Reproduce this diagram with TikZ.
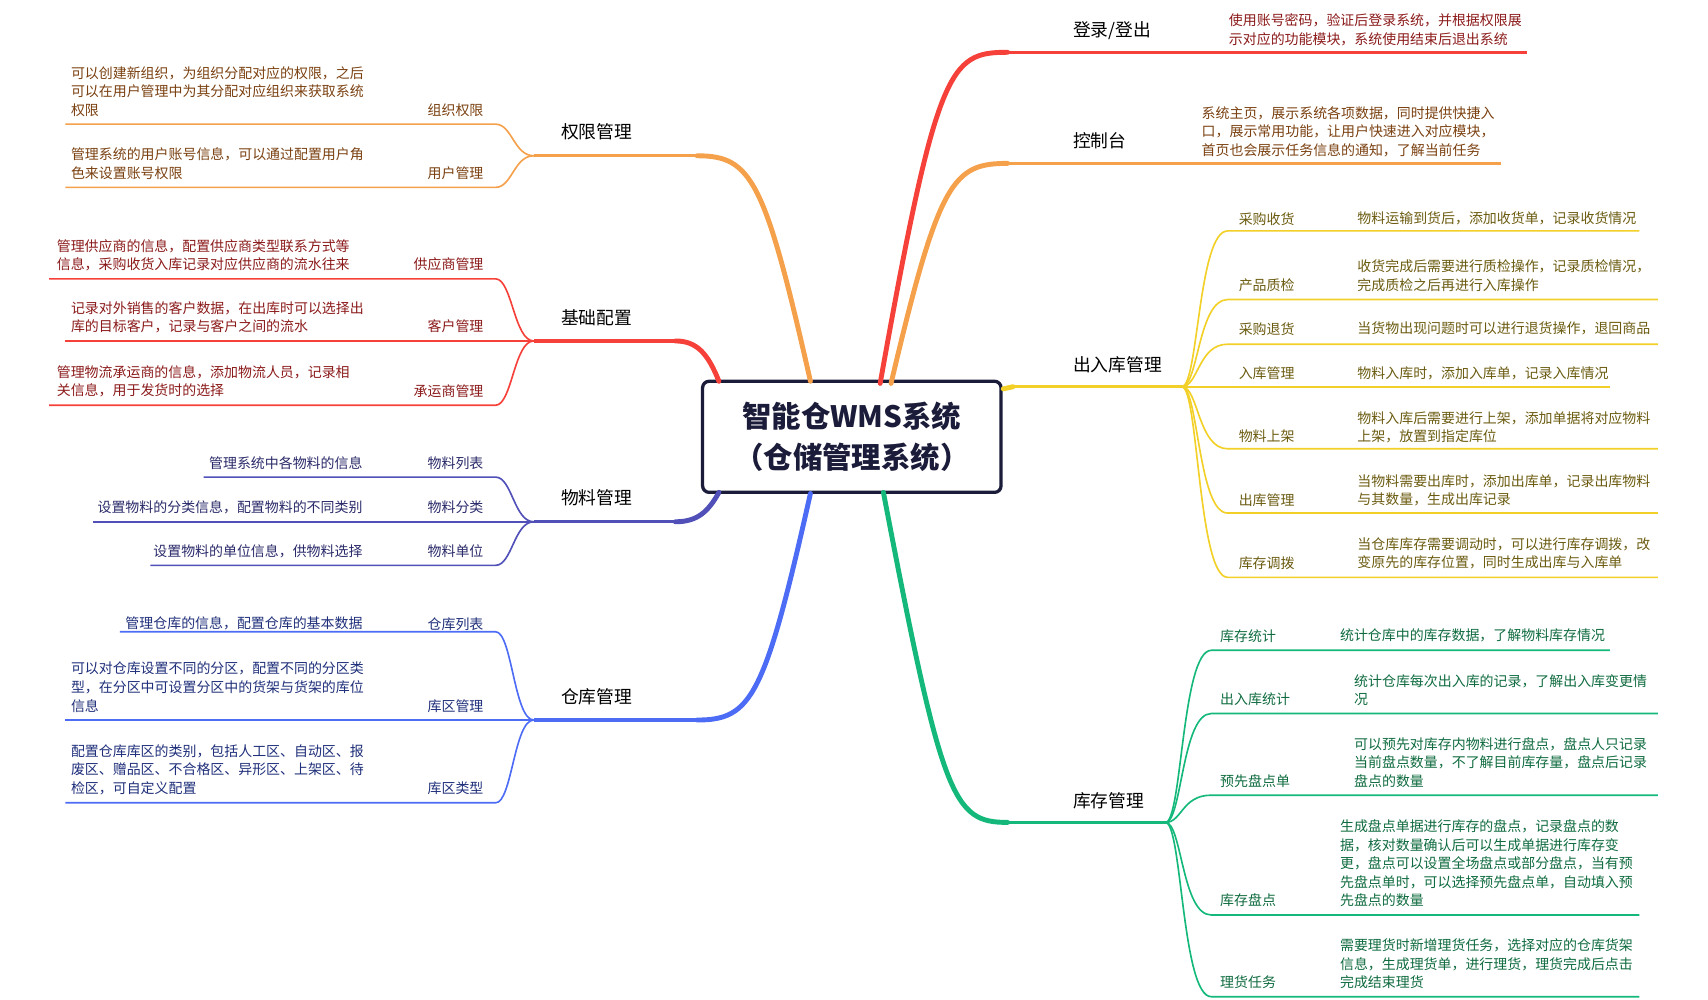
\documentclass[tikz,border=0pt]{standalone}
\usepackage{fontspec}
\setmainfont{Noto Sans CJK SC}
\definecolor{cR}{HTML}{F5413A}\definecolor{cO}{HTML}{F5A04A}\definecolor{cY}{HTML}{F2D027}
\definecolor{cG}{HTML}{13B87A}\definecolor{cI}{HTML}{5050B8}\definecolor{cB}{HTML}{4D6CF5}
\definecolor{tR}{HTML}{8B1A1A}\definecolor{tO}{HTML}{7A4010}\definecolor{tY}{HTML}{6B5B10}
\definecolor{tG}{HTML}{0F6B3F}\definecolor{tI}{HTML}{2A2A6A}\definecolor{tB}{HTML}{1F2F7A}
\definecolor{navy}{HTML}{1B1B3A}
\newcommand\lcurve[5]{\draw[#1,sub] (#2,#3) coordinate (l#3) -- (455,#3) coordinate (m#3) .. controls (470,#3) and (472,#4) .. (#5);}
\newcommand\rcurve[6]{\draw[#1,sub] (#2) .. controls (#3+15,#4) and (#3+15,#5) .. (#3+42,#5) coordinate (s#5) -- (#6,#5) coordinate (e#5);}
\tikzset{
 sub/.style={line width=1.5pt},
 main/.style={line width=4.5pt,line cap=round},
 hline/.style={line width=3pt},
 desc/.style={font=\fontsize{12.8}{17}\selectfont,inner sep=0pt,align=left},
 lab/.style={font=\fontsize{12.8}{17}\selectfont,inner sep=0pt},
 blab/.style={font=\fontsize{16.3}{20}\selectfont,inner sep=0pt,anchor=west},
 yl/.style={lab,text=tY,anchor=south west},yd/.style={desc,text=tY,anchor=south west},
 gl/.style={lab,text=tG,anchor=south west},gd/.style={desc,text=tG,anchor=south west},
 ll/.style={lab,anchor=south east},ld/.style={desc,anchor=south west},lr/.style={desc,anchor=south east,align=right},
}
\begin{document}
\begin{tikzpicture}[x=1pt,y=-1pt]
\useasboundingbox (0,0) rectangle (1568,918);
% center
\node[draw=navy,line width=3pt,rounded corners=6pt,minimum width=274pt,minimum height=102pt,align=center,text=navy,font=\fontsize{27}{37}\selectfont\bfseries] (c) at (782,401) {智能仓WMS系统\\（仓储管理系统）};
% hubs
\coordinate (hA) at (490,143);\coordinate (hB) at (490,313);\coordinate (hC) at (490,479);\coordinate (hD) at (490,661);
\coordinate (hY) at (1085,355);\coordinate (hG) at (1070,755);
% main branches right
\draw[cR,main] (808,352) .. controls (860,60) and (872,48) .. (925,48) coordinate (r1);
\draw[cR,hline] (r1) -- (1402,48) coordinate (r1e);
\draw[cO,main] (818,352) .. controls (862,165) and (875,150) .. (925,150) coordinate (r2);
\draw[cO,hline] (r2) -- (1378,150) coordinate (r2e);
\draw[cY,main] (921,357) -- (930,355) coordinate (r3);
\draw[cY,hline] (r3) -- (hY);
\draw[cG,main] (811,452) .. controls (865,735) and (875,755) .. (925,755) coordinate (r4);
\draw[cG,hline] (r4) -- (hG);
% main branches left
\draw[cO,main] (744,350) .. controls (702,165) and (690,143) .. (640,143) coordinate (q1);
\draw[cO,hline] (q1) -- (hA);
\draw[cR,main] (660,350) .. controls (650,325) and (640,313) .. (620,313) coordinate (q2);
\draw[cR,hline] (q2) -- (hB);
\draw[cI,main] (660,452) .. controls (650,470) and (640,479) .. (620,479) coordinate (q3);
\draw[cI,hline] (q3) -- (hC);
\draw[cB,main] (744,453) .. controls (702,640) and (690,661) .. (640,661) coordinate (q4);
\draw[cB,hline] (q4) -- (hD);
% branch labels
\node[blab] (L1) at (985,28) {登录/登出};
\node[blab] (L2) at (985,129) {控制台};
\node[blab] (L3) at (985,335) {出入库管理};
\node[blab] (L4) at (985,735) {库存管理};
\node[blab] (L5) at (515,121) {权限管理};
\node[blab] (L6) at (515,292) {基础配置};
\node[blab] (L7) at (515,457) {物料管理};
\node[blab] (L8) at (515,640) {仓库管理};
% right descs for single branches
\node[desc,text=tR,anchor=south west] (d1) at (1128,42) {使用账号密码，验证后登录系统，并根据权限展\\示对应的功能模块，系统使用结束后退出系统};
\node[desc,text=tO,anchor=south west] (d2) at (1103,144) {系统主页，展示系统各项数据，同时提供快捷入\\口，展示常用功能，让用户快速进入对应模块，\\首页也会展示任务信息的通知，了解当前任务};
% yellow children
\rcurve{cY}{hY}{1085}{355}{212}{1505}
\rcurve{cY}{hY}{1085}{355}{275}{1522}
\rcurve{cY}{hY}{1085}{355}{316}{1522}
\rcurve{cY}{hY}{1085}{355}{355}{1478}
\rcurve{cY}{hY}{1085}{355}{412}{1522}
\rcurve{cY}{hY}{1085}{355}{471}{1522}
\rcurve{cY}{hY}{1085}{355}{530}{1522}
\node[yl] (y1) at (1137,207) {采购收货};\node[yd] (yd1) at (1246,207) {物料运输到货后，添加收货单，记录收货情况};
\node[yl] (y2) at (1137,268) {产品质检};\node[yd] (yd2) at (1246,268) {收货完成后需要进行质检操作，记录质检情况，\\完成质检之后再进行入库操作};
\node[yl] (y3) at (1137,308) {采购退货};\node[yd] (yd3) at (1246,308) {当货物出现问题时可以进行退货操作，退回商品};
\node[yl] (y4) at (1137,349) {入库管理};\node[yd] (yd4) at (1246,349) {物料入库时，添加入库单，记录入库情况};
\node[yl] (y5) at (1137,407) {物料上架};\node[yd] (yd5) at (1246,407) {物料入库后需要进行上架，添加单据将对应物料\\上架，放置到指定库位};
\node[yl] (y6) at (1137,465) {出库管理};\node[yd] (yd6) at (1246,465) {当物料需要出库时，添加出库单，记录出库物料\\与其数量，生成出库记录};
\node[yl] (y7) at (1137,523) {库存调拨};\node[yd] (yd7) at (1246,523) {当仓库库存需要调动时，可以进行库存调拨，改\\变原先的库存位置，同时生成出库与入库单};
% green children
\rcurve{cG}{hG}{1070}{755}{597}{1478}
\rcurve{cG}{hG}{1070}{755}{655}{1522}
\rcurve{cG}{hG}{1070}{755}{730}{1522}
\rcurve{cG}{hG}{1070}{755}{840}{1505}
\rcurve{cG}{hG}{1070}{755}{915}{1505}
\node[gl] (g1) at (1120,590) {库存统计};\node[gd] (gd1) at (1230,590) {统计仓库中的库存数据，了解物料库存情况};
\node[gl] (g2) at (1120,648) {出入库统计};\node[gd] (gd2) at (1243,648) {统计仓库每次出入库的记录，了解出入库变更情\\况};
\node[gl] (g3) at (1120,723) {预先盘点单};\node[gd] (gd3) at (1243,723) {可以预先对库存内物料进行盘点，盘点人只记录\\当前盘点数量，不了解目前库存量，盘点后记录\\盘点的数量};
\node[gl] (g4) at (1120,833) {库存盘点};\node[gd] (gd4) at (1230,833) {生成盘点单据进行库存的盘点，记录盘点的数\\据，核对数量确认后可以生成单据进行库存变\\更，盘点可以设置全场盘点或部分盘点，当有预\\先盘点单时，可以选择预先盘点单，自动填入预\\先盘点的数量};
\node[gl] (g5) at (1120,908) {理货任务};\node[gd] (gd5) at (1230,908) {需要理货时新增理货任务，选择对应的仓库货架\\信息，生成理货单，进行理货，理货完成后点击\\完成结束理货};
% left children
\lcurve{cO}{60}{114}{143}{hA}
\lcurve{cO}{60}{172}{143}{hA}
\lcurve{cR}{45}{256}{313}{hB}
\lcurve{cR}{60}{313}{313}{hB}
\lcurve{cR}{45}{372}{313}{hB}
\lcurve{cI}{187}{438}{479}{hC}
\lcurve{cI}{85}{479}{479}{hC}
\lcurve{cI}{138}{519}{479}{hC}
\lcurve{cB}{110}{580}{661}{hD}
\lcurve{cB}{60}{661}{661}{hD}
\lcurve{cB}{60}{737}{661}{hD}
\node[ll,text=tO] (a1) at (444,107) {组织权限};\node[ld,text=tO] (ad1) at (65,107) {可以创建新组织，为组织分配对应的权限，之后\\可以在用户管理中为其分配对应组织来获取系统\\权限};
\node[ll,text=tO] (a2) at (444,165) {用户管理};\node[ld,text=tO] (ad2) at (65,165) {管理系统的用户账号信息，可以通过配置用户角\\色来设置账号权限};
\node[ll,text=tR] (b1) at (444,249) {供应商管理};\node[ld,text=tR] (bd1) at (52,249) {管理供应商的信息，配置供应商类型联系方式等\\信息，采购收货入库记录对应供应商的流水往来};
\node[ll,text=tR] (b2) at (444,306) {客户管理};\node[ld,text=tR] (bd2) at (65,306) {记录对外销售的客户数据，在出库时可以选择出\\库的目标客户，记录与客户之间的流水};
\node[ll,text=tR] (b3) at (444,365) {承运商管理};\node[ld,text=tR] (bd3) at (52,365) {管理物流承运商的信息，添加物流人员，记录相\\关信息，用于发货时的选择};
\node[ll,text=tI] (c1) at (444,431) {物料列表};\node[lr,text=tI] (cd1) at (333,431) {管理系统中各物料的信息};
\node[ll,text=tI] (c2) at (444,472) {物料分类};\node[lr,text=tI] (cd2) at (333,472) {设置物料的分类信息，配置物料的不同类别};
\node[ll,text=tI] (c3) at (444,512) {物料单位};\node[lr,text=tI] (cd3) at (333,512) {设置物料的单位信息，供物料选择};
\node[ll,text=tB] (e1) at (444,579) {仓库列表};\node[lr,text=tB] (ed1) at (333,579) {管理仓库的信息，配置仓库的基本数据};
\node[ll,text=tB] (e2) at (444,654) {库区管理};\node[ld,text=tB] (ed2) at (65,654) {可以对仓库设置不同的分区，配置不同的分区类\\型，在分区中可设置分区中的货架与货架的库位\\信息};
\node[ll,text=tB] (e3) at (444,730) {库区类型};\node[ld,text=tB] (ed3) at (65,730) {配置仓库库区的类别，包括人工区、自动区、报\\废区、赠品区、不合格区、异形区、上架区、待\\检区，可自定义配置};
\end{tikzpicture}
\end{document}
